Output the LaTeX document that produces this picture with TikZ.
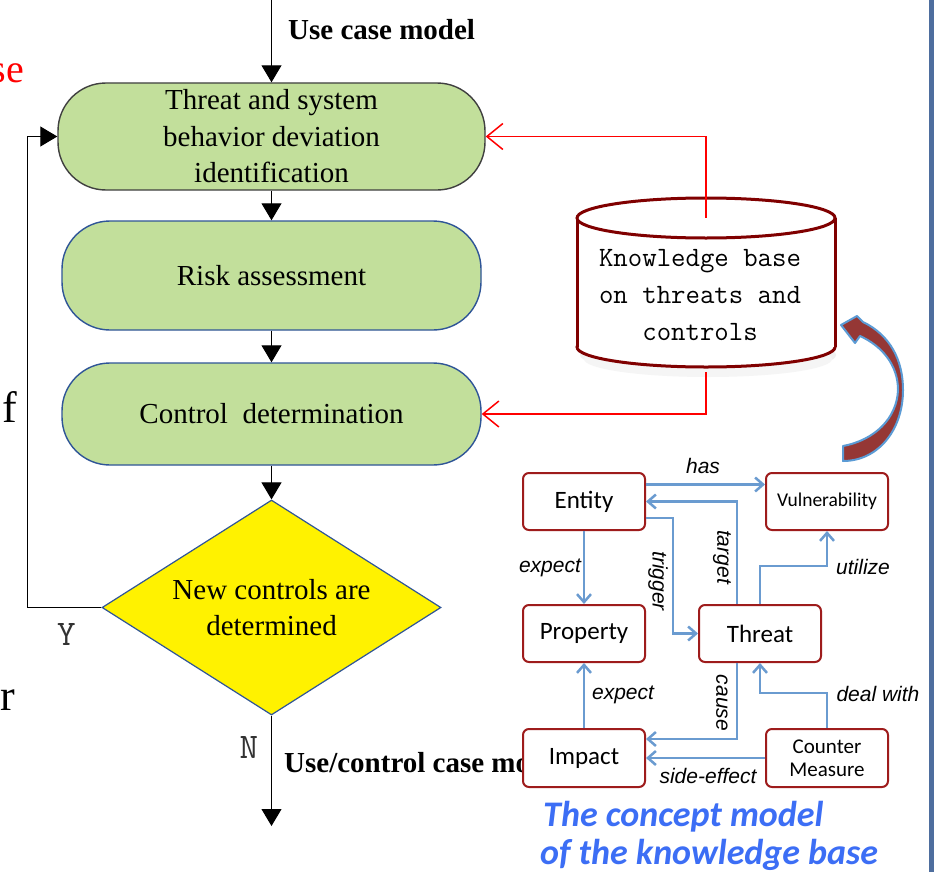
\documentclass[tikz,border=0pt]{standalone}
\usepackage{fontspec}
\setmainfont{Liberation Serif}
\newfontfamily\calibri{Carlito}
\newfontfamily\arialf{Liberation Sans}
\usetikzlibrary{arrows.meta,shapes.geometric}
\definecolor{boxgreen}{RGB}{194,223,155}
\definecolor{boxgray}{RGB}{64,64,64}
\definecolor{boxblue}{RGB}{47,85,151}
\definecolor{cred}{RGB}{158,28,28}
\definecolor{kbred}{RGB}{128,0,0}
\definecolor{cblue}{RGB}{106,155,208}
\definecolor{capblue}{RGB}{60,110,245}
\definecolor{barblue}{RGB}{78,110,158}
\definecolor{arrowred}{RGB}{149,55,53}
\definecolor{arrowblue}{RGB}{91,155,213}
\definecolor{ygray}{RGB}{50,50,50}
\begin{document}
\begin{tikzpicture}[x=1pt,y=-1pt,
  stage/.style={draw, fill=boxgreen, rounded corners=48pt, line width=1.4pt, align=center,
    font=\fontsize{29}{36.5}\selectfont, inner sep=0pt},
  flow/.style={-{Triangle[length=17pt,width=20pt]}, line width=1pt},
  kbarrow/.style={red, line width=1.5pt, -{Straight Barb[length=16pt,width=26pt]}},
  cbox/.style={draw=cred, line width=2pt, rounded corners=6pt, fill=white, minimum width=122pt,
    minimum height=57pt, inner sep=0pt, align=center, font=\calibri\fontsize{25}{27}\selectfont},
  rel/.style={draw=cblue, line width=2.5pt, -{Straight Barb[length=8pt,width=14pt]}},
  rlab/.style={font=\arialf\itshape\fontsize{21}{23}\selectfont, inner sep=0pt},
  frag/.style={font=\fontsize{44}{44}\selectfont, inner sep=0pt},
  yn/.style={font=\ttfamily\fontsize{36}{36}\selectfont, text=ygray, inner sep=0pt}
]
\useasboundingbox (0,0) rectangle (941,872);
\clip (0,0) rectangle (941,872);
\fill[white] (0,0) rectangle (941,872);

% cut-off fragments at the left edge
\node[frag, text=red, anchor=base] (fg) at (191,-9) {g};
\node[frag, text=red, anchor=base east, font=\fontsize{40}{40}\selectfont] (fse) at (24,83) {se};
\node[frag, anchor=base west] (ff) at (2,422) {f};
\node[frag, anchor=base east] (fr) at (15,710) {r};

% right bar
\fill[barblue] (929,0) rectangle (934,872);

% flowchart
\node[stage, draw=boxgray, minimum width=427pt, minimum height=107pt] (b1) at (271.5,136.5)
  {Threat and system\\behavior deviation\\identification};
\node[stage, draw=boxblue, minimum width=419pt, minimum height=109pt] (b2) at (271.5,275.5)
  {Risk assessment};
\node[stage, draw=boxblue, minimum width=419pt, minimum height=102pt] (b3) at (271.5,414)
  {Control\ \ determination};
\node[diamond, aspect=1.577, draw=boxblue, line width=1.2pt, fill=yellow, minimum width=339pt,
  minimum height=215pt, inner sep=0pt, align=center, font=\fontsize{29}{36.5}\selectfont]
  (dec) at (271.5,607.5) {New controls are\\determined};

\coordinate (topin) at (271.5,-5);
\coordinate (loopc) at (27,607.5);
\coordinate (botout) at (271.5,826);

\draw[flow] (topin) -- (b1);
\draw[flow] (b1) -- (b2);
\draw[flow] (b2) -- (b3);
\draw[flow] (b3) -- (dec);
\draw[flow] (dec.west) -- (loopc) |- (b1.west);
\draw[flow] (dec.south) -- (botout);

\node[anchor=base west, inner sep=0pt, font=\bfseries\fontsize{29}{34}\selectfont] (ucm) at (288,40) {Use case model};
\node[anchor=base west, inner sep=0pt, font=\bfseries\fontsize{29}{34}\selectfont] (uccm) at (284,772) {Use/control case model};
\node[yn] (ylab) at (66.5,634) {Y};
\node[yn] (nlab) at (249,747.5) {N};

% knowledge base cylinder
\fill[black!6] (708,355) ellipse (128pt and 19pt);
\fill[black!4] (708,359) ellipse (124pt and 18pt);
\filldraw[draw=kbred, fill=white, line width=3pt] (706,347) ellipse (129pt and 20pt);
\fill[white] (577,218) rectangle (835,347);
\draw[kbred, line width=3pt] (577,218) -- (577,347) (835,218) -- (835,347);
\filldraw[draw=kbred, fill=white, line width=3pt] (706,218) ellipse (129pt and 20pt);
\node[minimum width=258pt, minimum height=154pt, inner sep=0pt, align=center,
  font=\ttfamily\fontsize{28}{37}\selectfont] (kb) at (700,295)
  {Knowledge base\\on threats and\\controls};

\draw[kbarrow] ([xshift=6pt]kb.north) |- (b1.east);
\draw[kbarrow] ([xshift=6pt]kb.south) |- (b3.east);

% curved arrow
\filldraw[fill=arrowred, draw=arrowblue, line width=2pt, line join=round]
  (843,446) .. controls (875,440) and (897,418) .. (898,390)
  .. controls (898,365) and (882,346) .. (860,336) -- (855,343) -- (841,325) -- (857,316) -- (863,322)
  .. controls (890,335) and (903,360) .. (903,390)
  .. controls (903,430) and (878,461) .. (843,461) -- cycle;

% concept model
\node[cbox] (ent) at (584,501.5) {Entity};
\node[cbox, font=\calibri\fontsize{19.5}{21}\selectfont] (vul) at (827,501.5) {Vulnerability};
\node[cbox] (prop) at (584,633.5) {Property};
\node[cbox] (thr) at (760,633.5) {Threat};
\node[cbox, minimum height=58pt] (imp) at (584,758) {Impact};
\node[cbox, minimum height=58pt, font=\calibri\fontsize{21}{23}\selectfont] (cm) at (827,758) {Counter\\Measure};

\draw[rel] ([yshift=17pt]ent.east) -- ([yshift=17pt]vul.west);
\draw[rel] ([xshift=-23pt]thr.north) |- (ent.east);
\draw[rel] ([yshift=-16.5pt]ent.east) -- ++(27,0) |- (thr.west);
\draw[rel] (ent.south) -- (prop.north);
\draw[rel] (thr.north) -- ++(0,-38) -| (vul.south);
\draw[rel] (imp.north) -- (prop.south);
\draw[rel] ([xshift=-23pt]thr.south) |- ([yshift=19pt]imp.east);
\draw[rel] (cm.north) -- ++(0,-35) -| (thr.south);
\draw[rel] (cm.west) -- (imp.east);

\node[rlab] (lhas) at (703,466) {has};
\node[rlab, rotate=-90] (ltarget) at (722,557) {target};
\node[rlab, rotate=-90] (ltrigger) at (658,581) {trigger};
\node[rlab] (lexp1) at (550,568) {expect};
\node[rlab] (lutil) at (863,567) {utilize};
\node[rlab] (lexp2) at (623,695) {expect};
\node[rlab, rotate=-90] (lcause) at (722,703) {cause};
\node[rlab] (ldeal) at (878,694) {deal with};
\node[rlab] (lside) at (708,776) {side-effect};

\node[anchor=base west, inner sep=0pt, text=capblue, font=\calibri\bfseries\itshape\fontsize{36}{38}\selectfont]
  (cap1) at (543,826) {The concept model};
\node[anchor=base west, inner sep=0pt, text=capblue, font=\calibri\bfseries\itshape\fontsize{36}{38}\selectfont]
  (cap2) at (540,864) {of the knowledge base};
\end{tikzpicture}
\end{document}
